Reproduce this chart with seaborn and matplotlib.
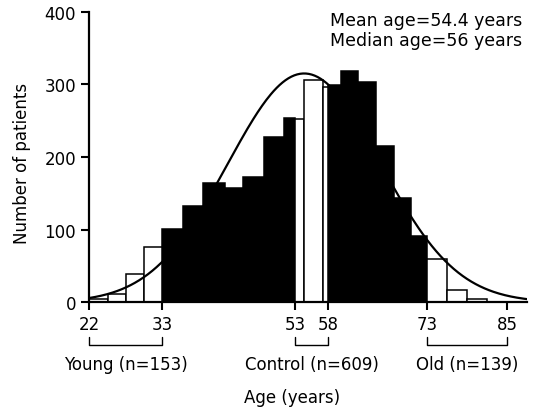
import matplotlib
matplotlib.use("Agg")
import matplotlib.pyplot as plt
import matplotlib.transforms as mtransforms
import seaborn as sns
import pandas as pd
import numpy as np

# histogram bins (ages), counts and fill
bin_edges = [22, 24.8, 27.5, 30.3, 33, 36.1, 39.1, 42.4, 45.2, 48.3, 51.3, 53,
             54.4, 57.2, 58, 59.9, 62.5, 65.3, 67.9, 70.5, 73, 76.0, 78.9, 81.9]
counts = [5, 11, 39, 76, 101, 133, 164, 157, 173, 227, 254, 252,
          306, 296, 299, 319, 303, 215, 144, 91, 59, 17, 5]
fill = ['open'] * 4 + ['solid'] * 7 + ['open'] * 3 + ['solid'] * 6 + ['open'] * 3

# fitted normal curve
mean_age = 54.4
median_age = 56
curve_sd = 11.5
curve_peak = 315

x_ticks = [22, 33, 53, 58, 73, 85]
y_ticks = [0, 100, 200, 300, 400]

groups = ['Young', 'Control', 'Old']
group_start = [22, 53, 73]
group_end = [33, 58, 85]
group_n = [153, 609, 139]

edges = np.array(bin_edges)
df = pd.DataFrame({
    'age': (edges[:-1] + edges[1:]) / 2,
    'count': counts,
    'fill': fill,
})

sns.set_style('ticks', {'axes.edgecolor': 'black', 'text.color': 'black',
                        'axes.labelcolor': 'black', 'xtick.color': 'black',
                        'ytick.color': 'black'})
plt.rcParams['font.family'] = ['DejaVu Sans']

fig = plt.figure(figsize=(5.33, 4.10), dpi=100)
ax = fig.add_axes([0.1675, 0.2602, 0.8212, 0.7088])

sns.histplot(data=df, x='age', weights='count', hue='fill', bins=bin_edges,
             palette={'open': 'white', 'solid': 'black'}, alpha=1,
             edgecolor='black', linewidth=1.1, multiple='layer',
             legend=False, ax=ax)

ages = np.linspace(22, 88, 300)
curve = curve_peak * np.exp(-0.5 * ((ages - mean_age) / curve_sd) ** 2)
sns.lineplot(x=ages, y=curve, color='black', linewidth=1.6, ax=ax)

ax.set_xlim(22, 88)
ax.set_ylim(0, 400)
ax.set_xticks(x_ticks)
ax.set_xticklabels([str(t) for t in x_ticks])
ax.set_yticks(y_ticks)
ax.tick_params(axis='both', length=5.5, width=1.5, labelsize=12,
               direction='out', colors='black')
ax.tick_params(axis='y', pad=4)
sns.despine(ax=ax)
for s in ['left', 'bottom']:
    ax.spines[s].set_linewidth(1.6)
    ax.spines[s].set_color('black')
ax.set_xlabel('')
ax.set_ylabel('')

ax.text(-0.154, 0.483, 'Number of patients', transform=ax.transAxes,
        rotation=90, ha='center', va='center', fontsize=12, color='black')

trans = mtransforms.blended_transform_factory(ax.transData, ax.transAxes)
for name, a, b, n in zip(groups, group_start, group_end, group_n):
    ax.plot([a, a, b, b], [-0.119, -0.147, -0.147, -0.119], transform=trans,
            color='black', lw=1.0, clip_on=False)
    ax.text((a + b) / 2, -0.212, f'{name} (n={n})', transform=trans,
            ha='center', va='center', fontsize=12, color='black')

ax.text(0.463, -0.326, 'Age (years)', transform=ax.transAxes,
        ha='center', va='center', fontsize=12, color='black')

ax.text(0.99, 1.003, f'Mean age={mean_age} years\nMedian age={median_age} years',
        transform=ax.transAxes, ha='right', va='top', ma='right',
        fontsize=12.5, linespacing=1.15, color='black')

fig.savefig('out.png', dpi=100)
